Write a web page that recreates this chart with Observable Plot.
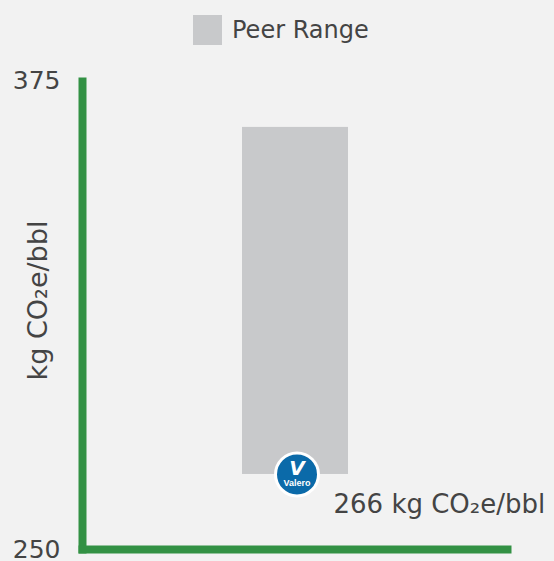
<!DOCTYPE html>
<html><head><meta charset="utf-8">
<script src="https://cdn.jsdelivr.net/npm/d3@7"></script>
<script src="https://cdn.jsdelivr.net/npm/@observablehq/plot@0.6"></script>
<style>
body{margin:0;background:#f2f2f2;font-family:"DejaVu Sans", sans-serif;}
#legend{height:60px;position:relative;}
#legend .sw{position:absolute;left:193px;top:15px;width:29px;height:30px;background:#c8c9cb;}
#legend .lab{position:absolute;left:232px;top:12px;font-size:24px;line-height:36px;color:#444;}
#chart svg{display:block;}
</style></head><body>
<div id="legend"><span class="sw"></span><span class="lab">Peer Range</span></div>
<div id="chart"></div>
<script>
const categories = ["Peer Range"];
const peerLow = [270];
const peerHigh = [362.5];
const valeroValue = [270];
const valeroLabel = ["266 kg CO₂e/bbl"];
const yTicks = [250, 375];
const yTitle = "kg CO₂e/bbl";

const peers = categories.map((c, i) => ({cat: c, low: peerLow[i], high: peerHigh[i]}));
const valero = [{cat: categories[0], value: valeroValue[0], label: valeroLabel[0]}];
const green = "#339144";
const textColor = "#444";

const plot = Plot.plot({
  width: 554, height: 501,
  marginLeft: 78, marginRight: 43, marginTop: 20, marginBottom: 12,
  style: {background: "transparent", fontFamily: "'DejaVu Sans', sans-serif"},
  x: {type: "band", domain: categories, padding: 0.607, axis: null},
  y: {domain: [250, 375], axis: null},
  marks: [
    Plot.barY(peers, {x: "cat", y1: "low", y2: "high", fill: "#c8c9cb"}),
    Plot.frame({anchor: "left", stroke: green, strokeWidth: 8, strokeLinecap: "butt", dx: 4, insetTop: -3, insetBottom: -4}),
    Plot.frame({anchor: "bottom", stroke: green, strokeWidth: 8, strokeLinecap: "butt"}),
    Plot.axisY(yTicks, {tickSize: 0, tickPadding: 18, fontSize: 25, fill: textColor, label: null, tickFormat: d => String(d)}),
    Plot.text([yTitle], {frameAnchor: "left", textAnchor: "middle", rotate: -90, dx: -40, dy: -14.5, fontSize: 27, fill: textColor}),
    Plot.dot(valero, {x: "cat", y: "value", r: 21.5, fill: "#0b6aa9", stroke: "white", strokeWidth: 3, dx: 1.5}),
    Plot.text(valero, {x: "cat", y: "value", text: () => "V", fill: "white", fontSize: 20, fontWeight: "bold", fontStyle: "italic", dx: 1.5, dy: -6}),
    Plot.ruleY(valero, {x: "cat", y: "value", stroke: "#f2c200", strokeWidth: 2, dx: 1.5, dy: -6, insetLeft: 8, insetRight: 8}),
    Plot.text(valero, {x: "cat", y: "value", text: () => "Valero", fill: "white", fontSize: 9, fontWeight: "bold", dx: 1.5, dy: 9, fontFamily: "Liberation Sans"}),
    Plot.text(valero, {x: "cat", y: "value", text: "label", textAnchor: "start", dx: 38, dy: 30, fontSize: 26, fill: textColor})
  ]
});
document.getElementById("chart").appendChild(plot);
</script>
</body></html>
